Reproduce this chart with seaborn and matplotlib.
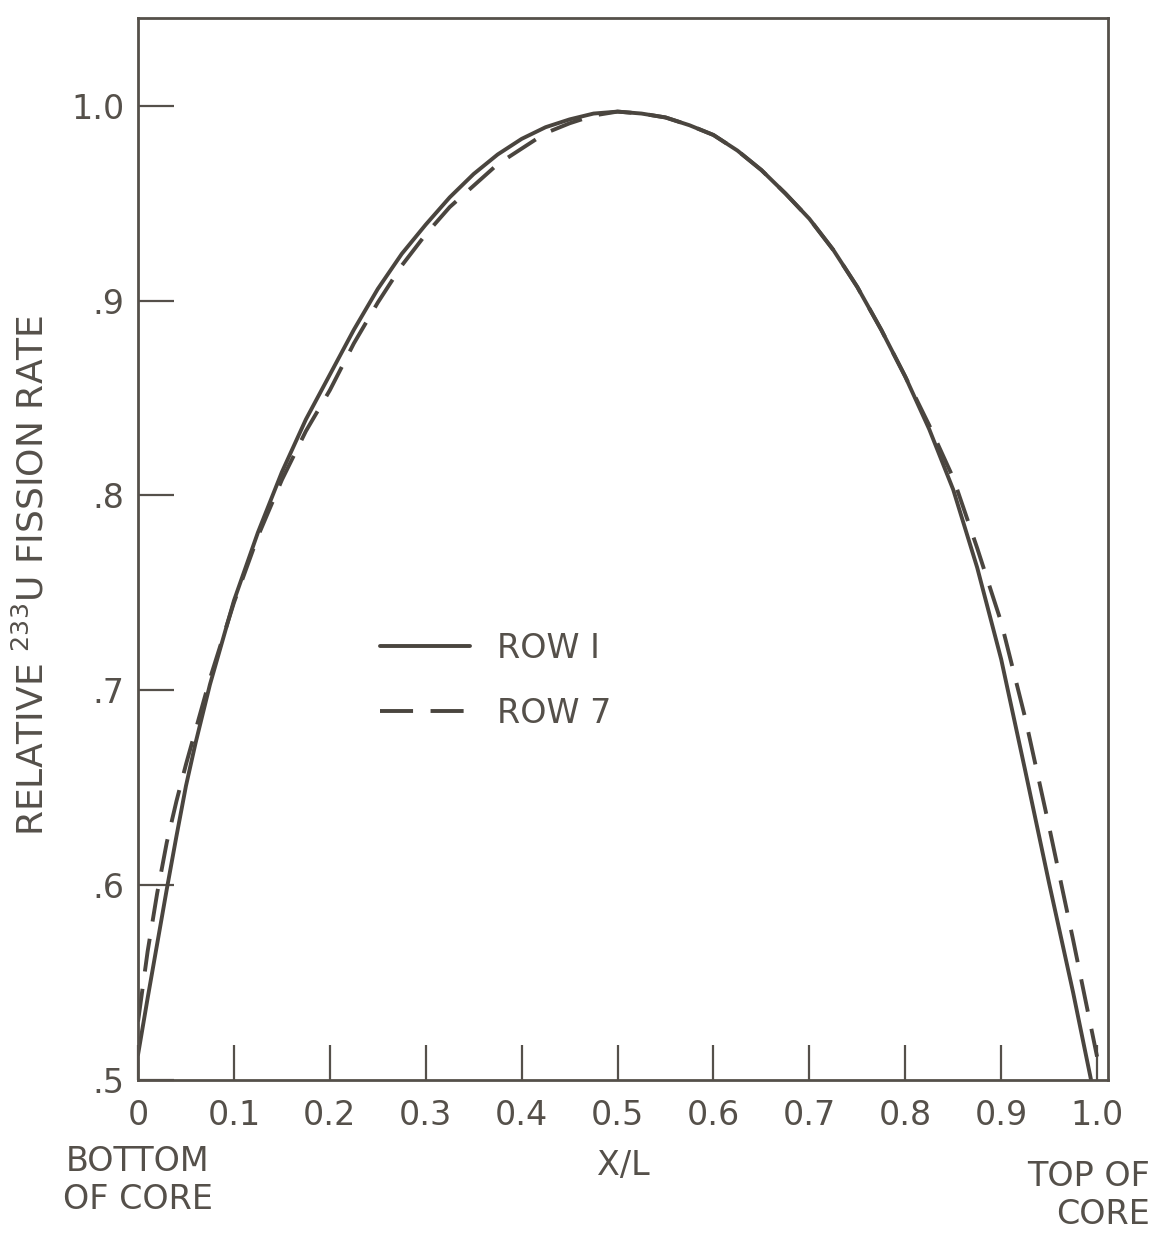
import numpy as np
import pandas as pd
import seaborn as sns
import matplotlib.pyplot as plt
from matplotlib.transforms import blended_transform_factory

# values
x_row1 = [0.0, 0.01, 0.02, 0.03, 0.04, 0.05, 0.06, 0.075, 0.1, 0.125, 0.15, 0.175,
          0.2, 0.225, 0.25, 0.275, 0.3, 0.325, 0.35, 0.375, 0.4, 0.425, 0.45, 0.475,
          0.5, 0.525, 0.55, 0.575, 0.6, 0.625, 0.65, 0.675, 0.7, 0.725, 0.75, 0.775,
          0.8, 0.825, 0.85, 0.875, 0.9, 0.925, 0.95, 0.975, 0.995]
row1 = [0.513, 0.542, 0.570, 0.598, 0.625, 0.651, 0.673, 0.703, 0.746, 0.781, 0.812, 0.839,
        0.862, 0.885, 0.906, 0.924, 0.939, 0.953, 0.965, 0.975, 0.983, 0.989, 0.993, 0.996,
        0.997, 0.996, 0.994, 0.990, 0.985, 0.977, 0.967, 0.955, 0.942, 0.926, 0.907, 0.885,
        0.861, 0.834, 0.803, 0.763, 0.716, 0.659, 0.601, 0.545, 0.497]

x_row7 = [0.0, 0.01, 0.02, 0.03, 0.04, 0.05, 0.075, 0.1, 0.125, 0.15, 0.175,
          0.2, 0.225, 0.25, 0.275, 0.3, 0.325, 0.35, 0.375, 0.4, 0.425, 0.45, 0.475,
          0.5, 0.525, 0.55, 0.575, 0.6, 0.625, 0.65, 0.675, 0.7, 0.725, 0.75, 0.775,
          0.8, 0.825, 0.85, 0.875, 0.9, 0.925, 0.95, 0.975, 1.0]
row7 = [0.530, 0.566, 0.596, 0.622, 0.643, 0.662, 0.706, 0.745, 0.779, 0.808, 0.833,
        0.854, 0.878, 0.899, 0.918, 0.934, 0.948, 0.959, 0.970, 0.978, 0.986, 0.991, 0.995,
        0.997, 0.996, 0.994, 0.990, 0.985, 0.977, 0.967, 0.955, 0.942, 0.926, 0.907, 0.885,
        0.861, 0.836, 0.809, 0.773, 0.735, 0.686, 0.630, 0.572, 0.512]

x_ticks = [0.0, 0.1, 0.2, 0.3, 0.4, 0.5, 0.6, 0.7, 0.8, 0.9, 1.0]
x_ticklabels = ['0', '0.1', '0.2', '0.3', '0.4', '0.5', '0.6', '0.7', '0.8', '0.9', '1.0']
y_ticks = [0.5, 0.6, 0.7, 0.8, 0.9, 1.0]
y_ticklabels = ['.5', '.6', '.7', '.8', '.9', '1.0']

ink = '#55504a'
line_ink = '#4a453f'

sns.set_theme(style='ticks')
plt.rcParams['font.family'] = ['DejaVu Sans']

df1 = pd.DataFrame({'x': x_row1, 'rate': row1})
df7 = pd.DataFrame({'x': x_row7, 'rate': row7})

fig = plt.figure(figsize=(11.58, 12.38), dpi=100, facecolor='white')
ax = fig.add_axes([0.1192, 0.1276, 0.8377, 0.8578])

sns.lineplot(data=df1, x='x', y='rate', ax=ax, color=line_ink, lw=2.8,
             label='ROW I')
sns.lineplot(data=df7, x='x', y='rate', ax=ax, color=line_ink, lw=2.8,
             linestyle=(0, (8.5, 4.5)), label='ROW 7')

ax.set_xlim(0, 1.0115)
ax.set_ylim(0.5, 1.045)

ax.set_xticks(x_ticks)
ax.set_xticklabels(x_ticklabels)
ax.set_yticks(y_ticks)
ax.set_yticklabels(y_ticklabels)
ax.tick_params(axis='x', direction='in', length=25, width=1.6, pad=14,
               labelsize=24, colors=ink)
ax.tick_params(axis='y', direction='in', length=26, width=1.6, pad=10,
               labelsize=24, colors=ink)
for s in ax.spines.values():
    s.set_linewidth(2)
    s.set_color(ink)

ax.set_xlabel('X/L', fontsize=24, color=ink, labelpad=12)
ax.set_ylabel('RELATIVE $^{233}$U FISSION RATE', fontsize=26, color=ink)
ax.yaxis.set_label_coords(-0.09, 0.475)

trans = blended_transform_factory(ax.transData, ax.transAxes)
ax.text(0.0, -0.061, 'BOTTOM\nOF CORE', transform=trans, ha='center', va='top',
        multialignment='center', fontsize=24, color=ink)
ax.text(1.055, -0.075, 'TOP OF\nCORE', transform=trans, ha='right', va='top',
        multialignment='right', fontsize=24, color=ink, clip_on=False)

leg = ax.legend(loc='upper left', bbox_to_anchor=(0.2495, 0.422), frameon=False,
                fontsize=24, handlelength=2.7, handletextpad=0.8, labelspacing=0.95,
                borderpad=0, borderaxespad=0)
for t in leg.get_texts():
    t.set_color(ink)

ax.grid(False)
fig.savefig('out.png', dpi=100, facecolor='white')
